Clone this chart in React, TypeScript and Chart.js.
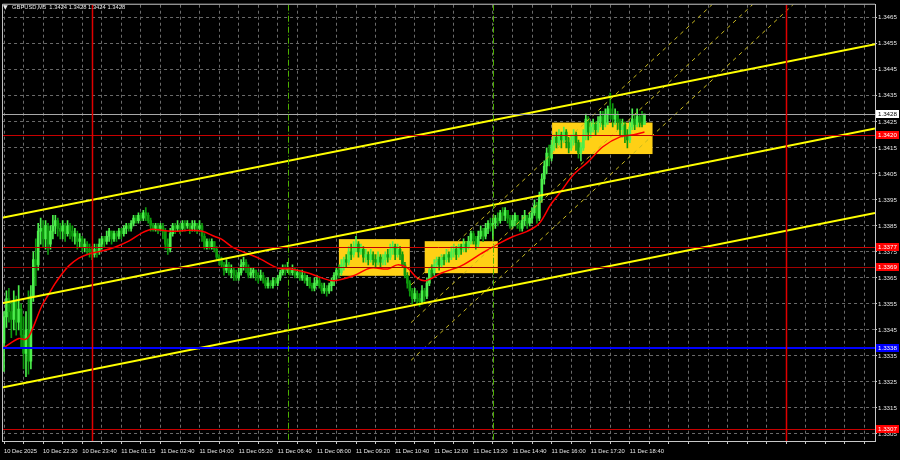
import React, { useEffect, useRef } from 'react';
import { Chart, registerables } from 'chart.js';
Chart.register(...registerables);

// ---------- data ----------
const symbolTitle = 'GBPUSD,M5';
const titleOHLC = ['1.3424', '1.3428', '1.3424', '1.3428'];

const timeLabels = ['10 Dec 2025', '10 Dec 22:20', '10 Dec 23:40', '11 Dec 01:15', '11 Dec 02:40', '11 Dec 04:00', '11 Dec 05:20', '11 Dec 06:40', '11 Dec 08:00', '11 Dec 09:20', '11 Dec 10:40', '11 Dec 12:00', '11 Dec 13:20', '11 Dec 14:40', '11 Dec 16:00', '11 Dec 17:20', '11 Dec 18:40'];
const barsPerLabel = 16;
const barsPerGrid = 8;
const visibleBars = [-0.8, 356.3];
const priceRange = [1.33023, 1.347];
const priceTicks = [1.3305, 1.3315, 1.3325, 1.3335, 1.3345, 1.3355, 1.3365, 1.3375, 1.3385, 1.3395, 1.3405, 1.3415, 1.3425, 1.3435, 1.3445, 1.3455, 1.3465];

const firstOpen = 1.3340;
const closes = [
  1.3350, 1.3357, 1.3352, 1.3349, 1.3356, 1.3348, 1.3353, 1.3343, 1.3336, 1.3345, 1.3333, 1.3358, 1.3372, 1.3370, 1.3383, 1.3384,
  1.3380, 1.3385, 1.3378, 1.3383, 1.3385, 1.3387, 1.3384, 1.3383, 1.3385, 1.3382, 1.3385, 1.3383, 1.3381, 1.3382, 1.3379, 1.3380,
  1.3377, 1.3378, 1.3376, 1.3375, 1.3374, 1.3376, 1.3375, 1.3378, 1.3380, 1.3379, 1.3381, 1.3383, 1.3380, 1.3382, 1.3381, 1.3383,
  1.3382, 1.3384, 1.3385, 1.3384, 1.3386, 1.3388, 1.3387, 1.3389, 1.3388, 1.3390, 1.3389, 1.3387, 1.3385, 1.3384, 1.3385, 1.3384,
  1.3385, 1.3383, 1.3378, 1.3376, 1.3382, 1.3385, 1.3384, 1.3385, 1.3384, 1.3386, 1.3385, 1.3386, 1.3384, 1.3385, 1.3386, 1.3384,
  1.3385, 1.3381, 1.3377, 1.3379, 1.3377, 1.3379, 1.3376, 1.3373, 1.3372, 1.3370, 1.3368, 1.3370, 1.3367, 1.3368, 1.3366, 1.3365,
  1.3367, 1.3370, 1.3371, 1.3369, 1.3366, 1.3367, 1.3368, 1.3366, 1.3365, 1.3366, 1.3364, 1.3362, 1.3363, 1.3362, 1.3364, 1.3363,
  1.3365, 1.3367, 1.3369, 1.3368, 1.3369, 1.3367, 1.3368, 1.3366, 1.3367, 1.3365, 1.3366, 1.3364, 1.3365, 1.3362, 1.3361, 1.3363,
  1.3364, 1.3362, 1.3360, 1.3361, 1.3360, 1.3362, 1.3364, 1.3366, 1.3368, 1.3367, 1.3370, 1.3372, 1.3371, 1.3375, 1.3374, 1.3377,
  1.3378, 1.3375, 1.3376, 1.3373, 1.3374, 1.3372, 1.3374, 1.3372, 1.3371, 1.3373, 1.3371, 1.3372, 1.3374, 1.3373, 1.3376, 1.3377,
  1.3374, 1.3376, 1.3374, 1.3370, 1.3366, 1.3363, 1.3360, 1.3357, 1.3359, 1.3357, 1.3356, 1.3360, 1.3358, 1.3363, 1.3368, 1.3367,
  1.3370, 1.3372, 1.3370, 1.3373, 1.3372, 1.3374, 1.3373, 1.3375, 1.3376, 1.3374, 1.3377, 1.3376, 1.3378, 1.3377, 1.3379, 1.3382,
  1.3380, 1.3378, 1.3381, 1.3383, 1.3381, 1.3384, 1.3386, 1.3385, 1.3386, 1.3388, 1.3387, 1.3390, 1.3389, 1.3391, 1.3388, 1.3385,
  1.3387, 1.3389, 1.3386, 1.3384, 1.3387, 1.3389, 1.3386, 1.3388, 1.3390, 1.3393, 1.3388, 1.3396, 1.3403, 1.3408, 1.3413, 1.3411,
  1.3416, 1.3419, 1.3417, 1.3420, 1.3418, 1.3421, 1.3417, 1.3415, 1.3418, 1.3420, 1.3417, 1.3413, 1.3415, 1.3420, 1.3426, 1.3421,
  1.3423, 1.3424, 1.3422, 1.3425, 1.3427, 1.3424, 1.3428, 1.3430, 1.3428, 1.3426, 1.3428, 1.3425, 1.3422, 1.3424, 1.3420, 1.3418,
  1.3423, 1.3426, 1.3424, 1.3427, 1.3425, 1.3424, 1.3428,
];
const highs = [
  1.3352, 1.3360, 1.3361, 1.3356, 1.3360, 1.3358, 1.3362, 1.3355, 1.3350, 1.3352, 1.3360, 1.3362, 1.3375, 1.3380, 1.3386, 1.3388,
  1.3387, 1.3387, 1.3386, 1.3385, 1.3389, 1.3389, 1.3388, 1.3386, 1.3387, 1.3386, 1.3387, 1.3386, 1.3385, 1.3384, 1.3383, 1.3382,
  1.3381, 1.3380, 1.3379, 1.3378, 1.3377, 1.3378, 1.3378, 1.3380, 1.3381, 1.3381, 1.3383, 1.3384, 1.3382, 1.3383, 1.3383, 1.3384,
  1.3384, 1.3385, 1.3386, 1.3386, 1.3387, 1.3389, 1.3389, 1.3390, 1.3390, 1.3391, 1.3392, 1.3390, 1.3388, 1.3386, 1.3386, 1.3386,
  1.3386, 1.3386, 1.3384, 1.3380, 1.3384, 1.3386, 1.3386, 1.3387, 1.3386, 1.3387, 1.3387, 1.3387, 1.3386, 1.3387, 1.3387, 1.3386,
  1.3387, 1.3386, 1.3382, 1.3380, 1.3380, 1.3380, 1.3379, 1.3377, 1.3374, 1.3373, 1.3371, 1.3372, 1.3371, 1.3370, 1.3369, 1.3368,
  1.3369, 1.3372, 1.3373, 1.3372, 1.3370, 1.3369, 1.3369, 1.3368, 1.3367, 1.3368, 1.3367, 1.3365, 1.3365, 1.3364, 1.3365, 1.3365,
  1.3366, 1.3368, 1.3370, 1.3370, 1.3371, 1.3369, 1.3370, 1.3369, 1.3368, 1.3368, 1.3368, 1.3367, 1.3366, 1.3365, 1.3363, 1.3365,
  1.3366, 1.3365, 1.3363, 1.3363, 1.3362, 1.3363, 1.3365, 1.3367, 1.3369, 1.3370, 1.3372, 1.3373, 1.3374, 1.3377, 1.3378, 1.3379,
  1.3381, 1.3379, 1.3378, 1.3377, 1.3376, 1.3375, 1.3376, 1.3375, 1.3374, 1.3375, 1.3374, 1.3374, 1.3375, 1.3376, 1.3378, 1.3379,
  1.3378, 1.3378, 1.3377, 1.3375, 1.3371, 1.3367, 1.3364, 1.3361, 1.3361, 1.3360, 1.3359, 1.3362, 1.3361, 1.3365, 1.3369, 1.3370,
  1.3372, 1.3373, 1.3373, 1.3374, 1.3374, 1.3376, 1.3375, 1.3377, 1.3378, 1.3377, 1.3378, 1.3378, 1.3380, 1.3379, 1.3381, 1.3383,
  1.3383, 1.3381, 1.3383, 1.3385, 1.3384, 1.3386, 1.3387, 1.3388, 1.3388, 1.3389, 1.3390, 1.3391, 1.3392, 1.3392, 1.3391, 1.3389,
  1.3389, 1.3390, 1.3389, 1.3387, 1.3389, 1.3391, 1.3389, 1.3390, 1.3392, 1.3395, 1.3394, 1.3398, 1.3405, 1.3410, 1.3415, 1.3416,
  1.3418, 1.3420, 1.3421, 1.3422, 1.3421, 1.3423, 1.3422, 1.3419, 1.3420, 1.3422, 1.3421, 1.3418, 1.3417, 1.3422, 1.3428, 1.3427,
  1.3425, 1.3426, 1.3425, 1.3427, 1.3429, 1.3429, 1.3430, 1.3431, 1.3436, 1.3432, 1.3430, 1.3429, 1.3426, 1.3426, 1.3425, 1.3422,
  1.3425, 1.3430, 1.3428, 1.3430, 1.3428, 1.3429, 1.3428,
];
const lows = [
  1.3329, 1.3346, 1.3348, 1.3342, 1.3345, 1.3343, 1.3345, 1.3338, 1.3330, 1.3327, 1.3328, 1.3330, 1.3356, 1.3362, 1.3368, 1.3378,
  1.3377, 1.3376, 1.3374, 1.3376, 1.3380, 1.3382, 1.3381, 1.3380, 1.3380, 1.3379, 1.3381, 1.3380, 1.3379, 1.3378, 1.3376, 1.3377,
  1.3375, 1.3375, 1.3374, 1.3373, 1.3372, 1.3373, 1.3373, 1.3374, 1.3376, 1.3377, 1.3378, 1.3379, 1.3378, 1.3379, 1.3379, 1.3380,
  1.3380, 1.3381, 1.3382, 1.3383, 1.3383, 1.3385, 1.3386, 1.3386, 1.3387, 1.3387, 1.3387, 1.3386, 1.3383, 1.3383, 1.3383, 1.3382,
  1.3383, 1.3380, 1.3376, 1.3374, 1.3375, 1.3381, 1.3382, 1.3383, 1.3382, 1.3383, 1.3383, 1.3384, 1.3382, 1.3383, 1.3383, 1.3382,
  1.3383, 1.3379, 1.3376, 1.3376, 1.3376, 1.3376, 1.3375, 1.3372, 1.3370, 1.3369, 1.3366, 1.3367, 1.3366, 1.3365, 1.3364, 1.3364,
  1.3364, 1.3366, 1.3368, 1.3367, 1.3365, 1.3365, 1.3365, 1.3364, 1.3363, 1.3364, 1.3363, 1.3361, 1.3361, 1.3361, 1.3361, 1.3362,
  1.3362, 1.3364, 1.3366, 1.3366, 1.3367, 1.3366, 1.3366, 1.3365, 1.3365, 1.3364, 1.3364, 1.3363, 1.3362, 1.3361, 1.3360, 1.3360,
  1.3362, 1.3361, 1.3359, 1.3359, 1.3358, 1.3359, 1.3360, 1.3362, 1.3364, 1.3365, 1.3366, 1.3368, 1.3369, 1.3370, 1.3372, 1.3373,
  1.3375, 1.3373, 1.3374, 1.3371, 1.3371, 1.3370, 1.3371, 1.3370, 1.3369, 1.3370, 1.3369, 1.3370, 1.3370, 1.3371, 1.3372, 1.3374,
  1.3372, 1.3373, 1.3372, 1.3369, 1.3365, 1.3361, 1.3358, 1.3355, 1.3356, 1.3355, 1.3354, 1.3355, 1.3356, 1.3357, 1.3362, 1.3365,
  1.3366, 1.3369, 1.3368, 1.3369, 1.3370, 1.3371, 1.3371, 1.3372, 1.3373, 1.3372, 1.3373, 1.3374, 1.3375, 1.3375, 1.3376, 1.3378,
  1.3378, 1.3376, 1.3377, 1.3380, 1.3379, 1.3380, 1.3382, 1.3383, 1.3380, 1.3384, 1.3385, 1.3386, 1.3387, 1.3387, 1.3386, 1.3384,
  1.3384, 1.3385, 1.3384, 1.3383, 1.3383, 1.3385, 1.3384, 1.3385, 1.3386, 1.3389, 1.3386, 1.3387, 1.3394, 1.3401, 1.3405, 1.3408,
  1.3410, 1.3414, 1.3415, 1.3416, 1.3415, 1.3417, 1.3415, 1.3413, 1.3414, 1.3416, 1.3414, 1.3411, 1.3410, 1.3414, 1.3418, 1.3418,
  1.3419, 1.3421, 1.3420, 1.3421, 1.3423, 1.3422, 1.3423, 1.3424, 1.3426, 1.3423, 1.3424, 1.3422, 1.3420, 1.3419, 1.3417, 1.3415,
  1.3417, 1.3422, 1.3422, 1.3423, 1.3423, 1.3423, 1.3424,
];

// moving average
const maBars = [0, 6.1, 8.6, 10.2, 12.7, 15.5, 18.4, 20.8, 23.7, 26.5, 30.6, 34.7, 40, 45.3, 51, 56.3, 60.4, 64.5, 70, 75.5, 81, 86, 89, 94, 100, 105, 112, 117.5, 124.5, 130, 135, 143, 150, 157, 161, 165, 169, 172.5, 179, 187, 195, 202, 208.5, 214, 219, 223.7, 227.8, 233, 239, 245, 252, 257.6, 262];
const maValues = [1.33383, 1.33417, 1.33413, 1.33425, 1.33478, 1.33543, 1.33589, 1.33627, 1.33665, 1.33696, 1.33726, 1.33742, 1.33753, 1.33768, 1.33791, 1.33822, 1.33837, 1.33833, 1.33829, 1.33833, 1.33829, 1.33810, 1.33799, 1.33765, 1.33742, 1.33722, 1.33688, 1.33684, 1.33669, 1.33650, 1.33639, 1.33658, 1.33688, 1.33684, 1.33700, 1.33688, 1.33650, 1.33639, 1.33669, 1.33696, 1.33742, 1.33780, 1.33810, 1.33829, 1.33860, 1.33933, 1.33982, 1.34047, 1.34097, 1.34154, 1.34192, 1.34200, 1.34211];

// yellow channel (bar index at both ends, price at both ends)
const channelBars = [-0.8, 356.3];
const channelUpper = [1.33881, 1.34548];
const channelMiddle = [1.33552, 1.34224];
const channelLower = [1.33229, 1.33899];

// thin dashed regression channel
const regBars = [166.5, 340];
const regUpper = [1.33623, 1.35141];
const regMiddle = [1.33478, 1.34996];
const regLower = [1.33333, 1.34851];

// highlighted zones
const zoneFrom = [137.0, 172.1, 224.2];
const zoneTo = [166.0, 202.0, 265.3];
const zoneHigh = [1.33799, 1.33791, 1.34247];
const zoneLow = [1.33658, 1.33668, 1.34126];

// horizontal levels
const redLevels = [1.3420, 1.3377, 1.3369, 1.3307];
const blueLevel = 1.33381;
const lastPrice = 1.3428;
// vertical markers (bar index)
const redMarkers = [36, 320];
const greenMarkers = [116, 200];

// boxed price labels
const boxPrices = [1.3428, 1.3420, 1.3377, 1.3369, 1.33381, 1.3307];
const boxTexts = ['1.3428', '1.3420', '1.3377', '1.3369', '1.3338', '1.3307'];
const boxKinds = ['last', 'red', 'red', 'red', 'blue', 'red'];

const FONT = '"Liberation Sans", Arial, sans-serif';
const FS_X = 5.8;
const FS_Y = 6.2;
const TXT = '#e6e6e6';
const AXIS = '#c8c8c8';
const GRID = '#6a6a6a';
const BULL = '#4cef4c';
const BEAR = '#0d9a0d';

export default function App() {
  const ref = useRef<HTMLCanvasElement>(null);
  useEffect(() => {
    document.body.style.margin = '0';
    document.body.style.background = '#000';
    const canvas = ref.current!;
    const opens = closes.map((c, i) => (i === 0 ? firstOpen : closes[i - 1]));
    const idx = closes.map((_, i) => i);
    const wickData = idx.map((i) => ({ x: i, y: [Math.min(lows[i], opens[i], closes[i]), Math.max(highs[i], opens[i], closes[i])] }));
    const bodyData = idx.map((i) => ({ x: i, y: [opens[i], closes[i]] }));
    const colors = idx.map((i) => (closes[i] >= opens[i] ? BULL : BEAR));
    const seg = (xs: number[], ys: number[]) => xs.map((x, k) => ({ x, y: ys[k] }));

    const overlay = {
      id: 'overlay',
      beforeDatasetsDraw(chart: any) {
        const { ctx, chartArea: a, scales } = chart;
        const x = scales.x, y = scales.y;
        ctx.save();
        ctx.beginPath();
        ctx.rect(a.left, a.top, a.right - a.left, a.bottom - a.top);
        ctx.clip();
        ctx.fillStyle = '#ffd015';
        zoneFrom.forEach((f, k) => {
          const x0 = x.getPixelForValue(f), x1 = x.getPixelForValue(zoneTo[k]);
          const y0 = y.getPixelForValue(zoneHigh[k]), y1 = y.getPixelForValue(zoneLow[k]);
          ctx.fillRect(x0, y0, x1 - x0, y1 - y0);
        });
        ctx.restore();
      },
      afterDatasetsDraw(chart: any) {
        const { ctx, chartArea: a, scales } = chart;
        const x = scales.x, y = scales.y;
        ctx.save();
        ctx.beginPath();
        ctx.rect(a.left, a.top, a.right - a.left, a.bottom - a.top);
        ctx.clip();
        const hline = (v: number, color: string, w: number) => {
          const py = Math.round(y.getPixelForValue(v)) + (w % 2 ? 0.5 : 0);
          ctx.strokeStyle = color; ctx.lineWidth = w; ctx.setLineDash([]);
          ctx.beginPath(); ctx.moveTo(a.left, py); ctx.lineTo(a.right, py); ctx.stroke();
        };
        hline(lastPrice, '#a8a8a8', 1);
        redLevels.forEach((v, k) => hline(v, k === 2 ? '#a00000' : '#c80000', 1));
        hline(blueLevel, '#0000ff', 2);
        redMarkers.forEach((b) => {
          const px = Math.round(x.getPixelForValue(b)) + 0.5;
          ctx.strokeStyle = '#e00000'; ctx.lineWidth = 1.5; ctx.setLineDash([]);
          ctx.beginPath(); ctx.moveTo(px, a.top); ctx.lineTo(px, a.bottom); ctx.stroke();
        });
        greenMarkers.forEach((b) => {
          const px = Math.round(x.getPixelForValue(b)) + 0.5;
          ctx.strokeStyle = '#4caf00'; ctx.lineWidth = 1; ctx.setLineDash([6, 2, 1, 2]);
          ctx.beginPath(); ctx.moveTo(px, a.top); ctx.lineTo(px, a.bottom); ctx.stroke();
        });
        ctx.restore();
      },
      afterDraw(chart: any) {
        const { ctx, chartArea: a, scales } = chart;
        const y = scales.y;
        ctx.save();
        // frame
        ctx.strokeStyle = AXIS; ctx.lineWidth = 1; ctx.setLineDash([]);
        ctx.beginPath();
        ctx.moveTo(a.left + 0.5, a.bottom); ctx.lineTo(a.left + 0.5, a.top - 0.5); ctx.lineTo(a.right, a.top - 0.5);
        ctx.stroke();
        // boxed labels
        ctx.font = `${FS_Y}px ${FONT}`;
        ctx.textBaseline = 'middle';
        ctx.textAlign = 'left';
        boxPrices.forEach((v, k) => {
          const py = Math.round(y.getPixelForValue(v));
          const kind = boxKinds[k];
          ctx.fillStyle = kind === 'last' ? '#ffffff' : kind === 'blue' ? '#0000ff' : '#ff0000';
          ctx.fillRect(a.right + 1, py - 4, 23, 8);
          ctx.fillStyle = kind === 'last' ? '#000000' : '#ffffff';
          ctx.fillText(boxTexts[k], a.right + 3, py + 0.5);
        });
        // title
        ctx.fillStyle = TXT;
        ctx.font = `6px "DejaVu Sans", sans-serif`;
        ctx.fillText('\u25BC', 3, 7);
        ctx.font = `${FS_X}px ${FONT}`;
        ctx.fillText(`${symbolTitle}  ${titleOHLC.join(' ')}`, 12, 7);
        ctx.restore();
      },
    };

    const chart = new Chart(canvas, {
      type: 'bar',
      data: {
        datasets: [
          ...[channelUpper, channelMiddle, channelLower].map((c) => ({
            type: 'line', data: seg(channelBars, c), borderColor: '#ffff00', borderWidth: 2, pointRadius: 0, order: 0,
          })),
          ...[regUpper, regMiddle, regLower].map((c) => ({
            type: 'line', data: seg(regBars, c), borderColor: '#c8b81e', borderWidth: 1, borderDash: [4, 4], pointRadius: 0, order: 1,
          })),
          { type: 'line', data: seg(maBars, maValues), borderColor: '#ff0000', borderWidth: 1.5, pointRadius: 0, tension: 0.35, order: 2 },
          { type: 'bar', data: bodyData, backgroundColor: colors, barThickness: 2, grouped: false, minBarLength: 1, order: 3 },
          { type: 'bar', data: wickData, backgroundColor: colors, barThickness: 1, grouped: false, order: 4 },
        ] as any,
      },
      options: {
        animation: false,
        responsive: false,
        devicePixelRatio: 1,
        events: [],
        layout: { padding: { left: 0, top: 2, right: 0, bottom: 0 } },
        plugins: { legend: { display: false }, tooltip: { enabled: false }, title: { display: false } },
        scales: {
          x: {
            type: 'linear', position: 'bottom', min: visibleBars[0], max: visibleBars[1], offset: false,
            afterBuildTicks: (s: any) => {
              const t = [];
              for (let v = 0; v <= visibleBars[1]; v += barsPerGrid) t.push({ value: v });
              s.ticks = t;
            },
            afterFit: (s: any) => { s.height = 19; },
            grid: { color: GRID, drawTicks: true, tickLength: 3, tickColor: AXIS, offset: false },
            border: { display: true, color: AXIS, dash: [3, 3] },
            ticks: {
              color: TXT, font: { family: FONT, size: FS_X }, align: 'start', maxRotation: 0, autoSkip: false, padding: 4,
              callback: (v: any) => {
                const k = Math.round(Number(v));
                const n = k / barsPerLabel;
                return k % barsPerLabel === 0 && n < timeLabels.length ? timeLabels[n] : '';
              },
            },
          },
          y: {
            type: 'linear', position: 'right', min: priceRange[0], max: priceRange[1],
            afterBuildTicks: (s: any) => { s.ticks = priceTicks.map((v) => ({ value: v })); },
            afterFit: (s: any) => { s.width = 25; },
            grid: { color: GRID, drawTicks: true, tickLength: 2, tickColor: AXIS },
            border: { display: true, color: AXIS, dash: [3, 3] },
            ticks: { color: TXT, font: { family: FONT, size: FS_Y }, padding: 1, callback: (v: any) => Number(v).toFixed(4) },
          },
        },
      } as any,
      plugins: [overlay],
    });
    return () => chart.destroy();
  }, []);
  return (
    <div style={{ position: 'fixed', left: 0, top: 0, width: 900, height: 460, background: '#000' }}>
      <canvas ref={ref} width={900} height={460} style={{ display: 'block', width: 900, height: 460 }} />
    </div>
  );
}
